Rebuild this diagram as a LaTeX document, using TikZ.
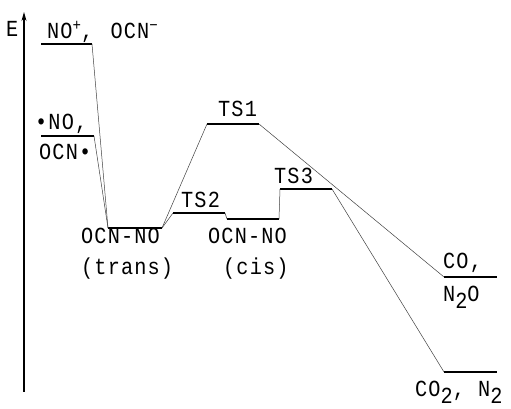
\documentclass[tikz,border=0pt]{standalone}
\usepackage{fontspec}
\usetikzlibrary{arrows.meta}
\newfontfamily\monofam[FakeStretch=0.88,LetterSpace=5]{Liberation Mono}
\newcommand\lowsub[1]{\raisebox{-7pt}{#1}}
\newcommand\highsup[1]{\raisebox{8pt}{\fontsize{16}{16}\selectfont #1}}
\tikzset{
  level/.style={line width=1.6pt, line cap=butt},
  conn/.style={line width=0.5pt, black!75},
  lbl/.style={anchor=base west, inner sep=0pt, font=\monofam\fontsize{23}{23}\selectfont},
  axis/.style={line width=1.2pt, -{Stealth[length=9pt,width=5pt]}}
}
\begin{document}
\begin{tikzpicture}[x=1pt,y=1pt]
\useasboundingbox (0,0) rectangle (511,409);
% axis
\coordinate (ax0) at (24,17);
\coordinate (ax1) at (24,397);
\draw[axis] (ax0) -- (ax1);
\node[lbl] (E) at (6,372) {E};
% levels
\coordinate (nopL) at (41,365); \coordinate (nopR) at (92,365);
\coordinate (norL) at (41,273); \coordinate (norR) at (94,273);
\coordinate (trL) at (108,181); \coordinate (trR) at (162,181);
\coordinate (tstL) at (173,196); \coordinate (tstR) at (225,196);
\coordinate (cisL) at (227,190); \coordinate (cisR) at (279,190);
\coordinate (tsoL) at (207,285); \coordinate (tsoR) at (259,285);
\coordinate (tsdL) at (280,220); \coordinate (tsdR) at (332,220);
\coordinate (coL) at (444,132); \coordinate (coR) at (497,132);
\coordinate (cdL) at (444,37); \coordinate (cdR) at (497,37);
\foreach \a in {nop,nor,tr,tst,cis,tso,tsd,co,cd}
  \draw[level] (\a L) -- (\a R);
% connectors
\draw[conn] (nopR) -- (trL);
\draw[conn] (norR) -- (trL);
\draw[conn] (trR) -- (tsoL);
\draw[conn] (trR) -- (tstL);
\draw[conn] (tstR) -- (cisL);
\draw[conn] (cisR) -- (tsdL);
\draw[conn] (tsoR) -- (coL);
\draw[conn] (tsdR) -- (cdL);
% labels
\node[lbl] (t1) at (47,370) {NO\highsup{+}, \hspace{4pt}OCN\highsup{\textminus}};
\node[lbl] (t2) at (35,279) {\textbullet NO,};
\node[lbl] (t3) at (39,249) {OCN\textbullet};
\node[lbl] (t4) at (81,165) {OCN-NO};
\node[lbl] (t5) at (81,134) {(trans)};
\node[lbl] (t6) at (181,201) {TS2};
\node[lbl] (t7) at (208,165) {OCN-NO};
\node[lbl] (t8) at (223,134) {(cis)};
\node[lbl] (t9) at (218,292) {TS1};
\node[lbl] (t10) at (274,225) {TS3};
\node[lbl] (t11) at (443,140) {CO,};
\node[lbl] (t12) at (443,107) {N\lowsub{2}O};
\node[lbl] (t13) at (415,12) {CO\lowsub{2}, N\lowsub{2}};
\end{tikzpicture}
\end{document}
